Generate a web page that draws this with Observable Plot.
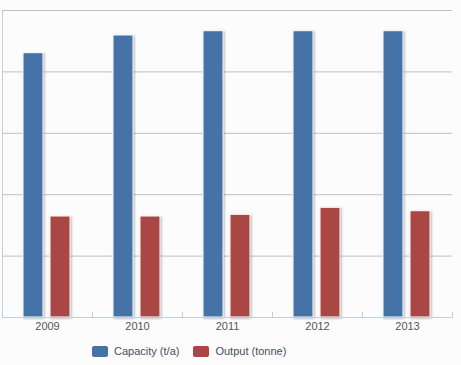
<!DOCTYPE html>
<html>
<head>
<meta charset="utf-8">
<script src="https://cdn.jsdelivr.net/npm/d3@7"></script>
<script src="https://cdn.jsdelivr.net/npm/@observablehq/plot@0.6"></script>
<style>
  html, body { margin: 0; padding: 0; background: #fcfcfc; }
  #chart { width: 461px; height: 365px; position: relative; background: #fcfcfc; }
  .legend { display: flex; align-items: center; padding-left: 92px; margin-top: 5px;
            font-family: "Liberation Sans", Arial, sans-serif; font-size: 11px; color: #44505c; }
  .legend .item { display: flex; align-items: center; margin-right: 14px; }
  .legend .sw { width: 16px; height: 11px; border-radius: 2px; margin-right: 6px; }
</style>
</head>
<body>
<div id="chart"></div>
<script>
const years = ["2009", "2010", "2011", "2012", "2013"];
const series = ["Capacity (t/a)", "Output (tonne)"];
const capacity = [4305, 4593, 4663, 4663, 4663];
const output = [1645, 1645, 1673, 1787, 1731];
const colors = ["#4572A7", "#AA4643"];
const yTicks = [0, 1000, 2000, 3000, 4000, 5000];

const data = years.flatMap((y, i) => [
  {year: y, series: series[0], value: capacity[i]},
  {year: y, series: series[1], value: output[i]}
]);

const axisColor = "#c0d0e0";

const plot = Plot.plot({
  width: 461,
  height: 340,
  marginLeft: 1,
  marginRight: 8,
  marginTop: 10,
  marginBottom: 23,
  style: {background: "#fcfcfc", fontFamily: "'Liberation Sans', Arial, sans-serif", fontSize: "11px", color: "#555"},
  fx: {domain: years, padding: 0, label: null, axis: "bottom", tickSize: 0, tickPadding: 5},
  x: {domain: series, axis: null, paddingInner: 0.25, paddingOuter: 0.74},
  y: {domain: [0, 5000], axis: null},
  color: {domain: series, range: colors},
  marks: [
    Plot.gridY(yTicks, {stroke: "#c0c0c0", strokeOpacity: 1}),
    Plot.frame({anchor: "left", stroke: axisColor, strokeOpacity: 1, fx: years[0]}),
    Plot.frame({anchor: "left", stroke: axisColor, strokeOpacity: 1, insetTop: 302}),
    Plot.frame({anchor: "right", stroke: axisColor, strokeOpacity: 1, insetTop: 302}),
    Plot.barY(data, {fx: "year", x: "series", y: "value", fill: "series", stroke: "white", strokeWidth: 1}),
    Plot.ruleY([0], {stroke: axisColor})
  ]
});

plot.querySelectorAll('g[aria-label="bar"]').forEach(g => {
  g.style.filter = "drop-shadow(1.5px 1px 1px rgba(0,0,0,0.3))";
});

const chart = document.getElementById("chart");
chart.appendChild(plot);

const legend = document.createElement("div");
legend.className = "legend";
series.forEach((s, i) => {
  const item = document.createElement("div");
  item.className = "item";
  const sw = document.createElement("span");
  sw.className = "sw";
  sw.style.background = colors[i];
  const t = document.createElement("span");
  t.textContent = s;
  item.appendChild(sw);
  item.appendChild(t);
  legend.appendChild(item);
});
chart.appendChild(legend);
</script>
</body>
</html>
